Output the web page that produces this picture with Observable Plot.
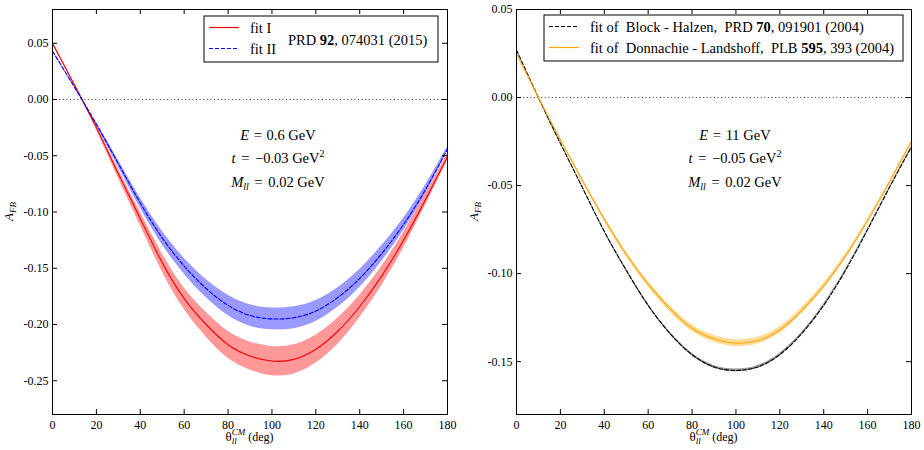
<!DOCTYPE html>
<html><head><meta charset="utf-8">
<script src="https://cdn.jsdelivr.net/npm/d3@7"></script>
<script src="https://cdn.jsdelivr.net/npm/@observablehq/plot@0.6"></script>
<style>
body{margin:0;background:#fff;}
#wrap{display:flex;width:924px;height:450px;}
svg text{font-family:"Liberation Serif","Times New Roman",serif;}
</style></head><body><div id="wrap"></div>
<script>
// ---- data ----
const theta = [0,10,20,30,40,50,60,70,80,90,100,110,120,130,140,150,160,170,180];

// left panel: E = 0.6 GeV
const fitI    = [0.050,0.013,-0.025,-0.066,-0.106,-0.145,-0.177,-0.200,-0.218,-0.228,-0.2325,-0.231,-0.222,-0.206,-0.184,-0.157,-0.125,-0.089,-0.051];
const fitIErr = [0.001,0.0005,0.002,0.004,0.006,0.008,0.0095,0.011,0.012,0.0125,0.013,0.013,0.0125,0.0115,0.010,0.0085,0.007,0.005,0.003];
const fitII    = [0.043,0.011,-0.022,-0.057,-0.092,-0.123,-0.148,-0.168,-0.183,-0.192,-0.195,-0.194,-0.188,-0.176,-0.159,-0.137,-0.111,-0.080,-0.044];
const fitIIErr = [0.0008,0.0004,0.0015,0.003,0.0045,0.006,0.007,0.008,0.009,0.0095,0.0097,0.0097,0.0093,0.0087,0.008,0.007,0.0055,0.004,0.002];

// right panel: E = 11 GeV
const blockHalzen    = [0.027,0.000,-0.026,-0.051,-0.076,-0.098,-0.118,-0.134,-0.146,-0.153,-0.155,-0.153,-0.146,-0.134,-0.118,-0.098,-0.075,-0.051,-0.028];
const blockHalzenErr = [0.0002,0.0002,0.0003,0.0004,0.0005,0.0006,0.0007,0.0007,0.0008,0.0008,0.0008,0.0008,0.0008,0.0007,0.0007,0.0006,0.0005,0.0004,0.0003];
const donnLand    = [0.025,0.000,-0.024,-0.047,-0.069,-0.089,-0.106,-0.120,-0.131,-0.137,-0.1395,-0.138,-0.132,-0.121,-0.107,-0.090,-0.070,-0.048,-0.025];
const donnLandErr = [0.0003,0.0003,0.0006,0.0009,0.0012,0.0014,0.0016,0.0018,0.0019,0.002,0.002,0.002,0.0019,0.0018,0.0016,0.0014,0.0011,0.0008,0.0005];

const xTicks = [0,20,40,60,80,100,120,140,160,180];
const yTicksLeft  = [0.05,0,-0.05,-0.10,-0.15,-0.20,-0.25];
const yTicksRight = [0.05,0,-0.05,-0.10,-0.15];

const FONT = '"Liberation Serif","Times New Roman",serif';
function table(v, e){ return theta.map((t,i)=>({t, v:v[i], lo:v[i]-e[i], hi:v[i]+e[i]})); }

function panel(o){
  const W=462, H=450, mt=9, mb=36;
  const fh = H-mt-mb, fw = W-o.ml-o.mr;
  const marks = [Plot.ruleY([0], {stroke:"#333", strokeDasharray:"1,2.6", strokeWidth:1})];
  for (const s of o.series){
    marks.push(Plot.areaY(s.data, {x:"t", y1:"lo", y2:"hi", fill:s.color, fillOpacity:0.4, curve:"natural"}));
  }
  for (const s of o.series){
    marks.push(Plot.line(s.data, {x:"t", y:"v", stroke:s.color, strokeWidth:1.1, strokeDasharray:s.dash, curve:"natural"}));
  }
  marks.push(
    Plot.ruleX(xTicks, {x:d=>d, insetTop: fh-5, stroke:"black"}),
    Plot.ruleX(xTicks, {x:d=>d, insetBottom: fh-5, stroke:"black"}),
    Plot.ruleY(o.yTicks, {y:d=>d, insetRight: fw-5, stroke:"black"}),
    Plot.ruleY(o.yTicks, {y:d=>d, insetLeft: fw-5, stroke:"black"}),
    Plot.axisX({ticks:xTicks, tickSize:0, tickPadding:6, label:null, fontSize:12}),
    Plot.axisY({ticks:o.yTicks, tickSize:0, tickPadding:4, label:null, fontSize:12, tickFormat:d=>d.toFixed(2)}),
    Plot.frame({stroke:"black", strokeWidth:1})
  );
  const svg = Plot.plot({
    width:W, height:H, marginLeft:o.ml, marginRight:o.mr, marginTop:mt, marginBottom:mb,
    x:{domain:[0,180]}, y:{domain:o.yDomain},
    style:{fontFamily:FONT, fontSize:"12px", background:"white", color:"black"},
    marks
  });
  document.getElementById("wrap").appendChild(svg);
  const g = d3.select(svg).append("g").attr("font-family", FONT).attr("fill","black").attr("text-anchor","start");
  // x label
  const cx = o.ml + fw/2;
  const xl = g.append("text").attr("x", cx).attr("y", 441).attr("text-anchor","middle").attr("font-size",13);
  xl.append("tspan").text("θ");
  xl.append("tspan").attr("font-size",9).attr("font-style","italic").attr("dy",3).text("ll");
  xl.append("tspan").attr("font-size",9).attr("font-style","italic").attr("dx",-5).attr("dy",-9).text("CM");
  xl.append("tspan").attr("font-size",12).attr("dy",6).style("white-space","pre").text(" (deg)");
  // y label
  const yl = g.append("text").attr("transform", `translate(${o.ylx},${mt+fh/2}) rotate(-90)`).attr("text-anchor","middle").attr("font-size",13);
  yl.append("tspan").attr("font-style","italic").text("A");
  yl.append("tspan").attr("font-style","italic").attr("font-size",9).attr("dy",3).text("FB");
  // annotations
  const a = o.ann;
  const t1 = g.append("text").attr("x",a.x).attr("y",140).attr("text-anchor","middle").attr("font-size",14.5).style("white-space","pre");
  t1.append("tspan").attr("font-style","italic").text("E");
  t1.append("tspan").attr("dx",1).text(" = ");
  t1.append("tspan").attr("dx",1).text(a.E + " GeV");
  const t2 = g.append("text").attr("x",a.x).attr("y",163).attr("text-anchor","middle").attr("font-size",14.5).style("white-space","pre");
  t2.append("tspan").attr("font-style","italic").text("t");
  t2.append("tspan").attr("dx",2).text(" = ");
  t2.append("tspan").attr("dx",2).text(a.t + " GeV");
  t2.append("tspan").attr("font-size",10).attr("dy",-6).text("2");
  const t3 = g.append("text").attr("x",a.x).attr("y",187).attr("text-anchor","middle").attr("font-size",14.5).style("white-space","pre");
  t3.append("tspan").attr("font-style","italic").text("M");
  t3.append("tspan").attr("font-style","italic").attr("font-size",10).attr("dy",3).text("ll");
  t3.append("tspan").attr("dy",-3).attr("dx",2).text(" = ");
  t3.append("tspan").attr("dx",2).text(a.M + " GeV");
  // legend
  const L = o.legend;
  const lg = g.append("g");
  lg.append("rect").attr("x",L.x).attr("y",L.y).attr("width",L.w).attr("height",L.h).attr("fill","white").attr("stroke","black").attr("stroke-width",1);
  L.items.forEach((it,i)=>{
    const yy = L.y + 11.5 + i*21;
    lg.append("line").attr("x1",L.x+5).attr("x2",L.x+35).attr("y1",yy).attr("y2",yy)
      .attr("stroke",it.color).attr("stroke-width",1.2).attr("stroke-dasharray",it.dash||null);
    const tx = lg.append("text").attr("x",L.x+L.tx).attr("y",yy+5).attr("font-size",14.5).attr("text-anchor","start").style("white-space","pre");
    it.parts.forEach(p=>{ tx.append("tspan").attr("font-weight",p.b?"bold":null).text(p.s); });
  });
  if (L.extra){
    const tx = lg.append("text").attr("x",L.extra.x).attr("y",L.extra.y).attr("font-size",14.5).attr("text-anchor","start").style("white-space","pre");
    L.extra.parts.forEach(p=>{ tx.append("tspan").attr("font-weight",p.b?"bold":null).text(p.s); });
  }
}

panel({
  ml:52, mr:15, yDomain:[-0.28,0.08], yTicks:yTicksLeft, ylx:13,
  series:[
    {data:table(fitI,fitIErr), color:"red", dash:null},
    {data:table(fitII,fitIIErr), color:"blue", dash:"4,2"}
  ],
  ann:{x:278, E:"0.6", t:"\u22120.03", M:"0.02"},
  legend:{x:204, y:16, w:234, h:46, tx:46,
    items:[{color:"red", parts:[{s:"fit I"}]},{color:"blue", dash:"4,2", parts:[{s:"fit II"}]}],
    extra:{x:288, y:45, parts:[{s:"PRD "},{s:"92",b:true},{s:", 074031 (2015)"}]}}
});

panel({
  ml:54, mr:13, yDomain:[-0.18,0.05], yTicks:yTicksRight, ylx:16,
  series:[
    {data:table(blockHalzen,blockHalzenErr), color:"black", dash:"4,2"},
    {data:table(donnLand,donnLandErr), color:"orange", dash:null}
  ],
  ann:{x:273, E:"11", t:"\u22120.05", M:"0.02"},
  legend:{x:82, y:15, w:359, h:46, tx:46,
    items:[
      {color:"black", dash:"4,2", parts:[{s:"fit of  Block - Halzen,  PRD "},{s:"70",b:true},{s:", 091901 (2004)"}]},
      {color:"orange", parts:[{s:"fit of  Donnachie - Landshoff,  PLB "},{s:"595",b:true},{s:", 393 (2004)"}]}
    ]}
});
</script></body></html>
